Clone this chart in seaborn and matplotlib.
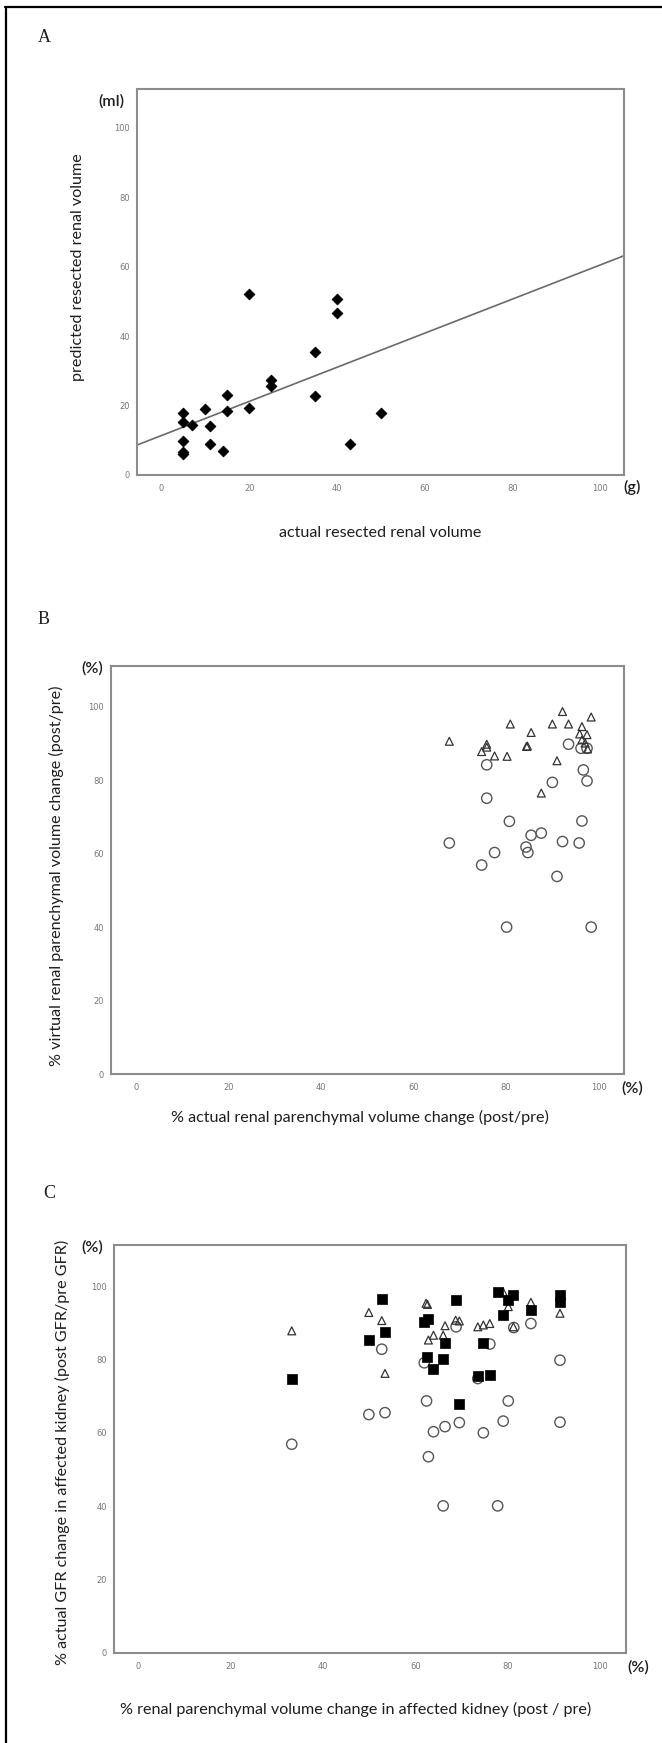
import numpy as np
import pandas as pd
import matplotlib
matplotlib.use("Agg")
import matplotlib.pyplot as plt
import seaborn as sns
from matplotlib.lines import Line2D

# panel A: actual vs predicted resected renal volume
a_actual = [5, 5, 5, 5, 5, 7, 10, 11, 11, 14, 15, 15, 20, 20, 25, 25, 35, 35, 40, 40, 43, 50]
a_predicted = [18, 15.2, 9.8, 6.5, 6, 14.3, 19, 14, 9, 7, 23, 18.3, 19.2, 52, 27.5, 25.5,
               22.8, 35.4, 50.8, 46.8, 9, 17.8]

# panel B: actual vs virtual parenchymal volume change
b_tri_x = [67.7, 75.8, 74.7, 75.8, 77.5, 80.2, 80.9, 85.4, 84.4, 84.6, 91.0, 92.2, 90.0,
           93.5, 96.4, 98.4, 95.9, 97.5, 96.4, 97.1, 97.6, 87.6]
b_tri_y = [90.6, 89.8, 87.8, 89.0, 86.6, 86.5, 95.3, 93.0, 89.2, 89.3, 85.3, 98.7, 95.3,
           95.3, 94.6, 97.2, 92.6, 92.4, 91.0, 90.1, 88.5, 76.5]
b_circ_x = [93.5, 96.2, 97.5, 75.8, 96.7, 97.5, 90.0, 75.8, 80.7, 96.4, 85.4, 87.6, 67.7,
            77.5, 84.3, 84.7, 92.2, 95.8, 74.7, 91.0, 80.1, 98.4]
b_circ_y = [89.8, 88.7, 88.7, 84.2, 82.8, 79.8, 79.4, 75.1, 68.8, 68.9, 65.0, 65.6, 62.9,
            60.3, 61.8, 60.3, 63.3, 62.9, 56.9, 53.8, 40.0, 40.0]

# panel C: volume change vs GFR change in affected kidney
c_sq_x = [33.2, 52.7, 49.9, 53.4, 68.7, 61.8, 62.8, 66.4, 62.4, 66.0, 63.9, 69.5, 74.7,
          73.5, 76.1, 77.8, 81.2, 80.1, 79.0, 85.0, 91.3, 91.3]
c_sq_y = [74.7, 96.6, 85.3, 87.6, 96.2, 90.1, 90.9, 84.4, 80.7, 80.1, 77.3, 67.8, 84.6,
          75.6, 75.7, 98.3, 97.5, 96.2, 92.1, 93.6, 97.5, 95.7]
c_tri_x = [33.2, 49.9, 52.7, 53.4, 62.3, 62.6, 62.8, 63.9, 66.0, 66.4, 68.7, 69.5, 73.5,
           74.7, 76.1, 79.0, 80.1, 81.2, 85.0, 91.3]
c_tri_y = [87.8, 92.8, 90.6, 76.2, 95.3, 95.0, 85.3, 86.6, 86.6, 89.2, 90.7, 90.5, 88.9,
           89.4, 89.8, 98.4, 94.4, 88.9, 95.6, 92.6]
c_circ_x = [33.2, 49.9, 53.4, 52.7, 61.9, 62.4, 62.8, 63.9, 66.4, 66.0, 68.8, 69.5, 74.7,
            73.5, 76.1, 77.8, 79.0, 80.1, 81.3, 85.0, 91.3, 91.3]
c_circ_y = [56.9, 65.0, 65.5, 82.8, 79.1, 68.7, 53.5, 60.3, 61.7, 40.1, 88.9, 62.8, 60.0,
            74.8, 84.2, 40.1, 63.2, 68.7, 88.7, 89.8, 79.8, 62.9]

ticks = [0, 20, 40, 60, 80, 100]

sns.set_style("white")
plt.rcParams['font.family'] = ['Lato', 'DejaVu Sans']

W, H = 662, 1743
fig = plt.figure(figsize=(W / 100, H / 100), dpi=100)


def panel(l, t, r, b):
    ax = fig.add_axes([l / W, 1 - b / H, (r - l) / W, (b - t) / H])
    for s in ax.spines.values():
        s.set_visible(True)
        s.set_color('#8c8c8c')
        s.set_linewidth(1.5)
    ax.set_xticks(ticks)
    ax.set_yticks(ticks)
    ax.tick_params(direction='out', length=3.5, width=1, color='#8c8c8c',
                   labelsize=6, labelcolor='#787878')
    ax.tick_params(axis='y', pad=1.5)
    ax.tick_params(axis='x', pad=3)
    for lab in ax.get_xticklabels() + ax.get_yticklabels():
        lab.set_family('DejaVu Sans')
    return ax


def ftext(x, y, s, **kw):
    fig.text(x / W, 1 - y / H, s, ha='center', va='center', color='#1e1e1e', **kw)


label_kw = dict(fontsize=11.6)
unit_kw = dict(fontsize=11.6, weight='semibold')
letter_kw = dict(fontsize=13, family='Liberation Serif')

# ---- A
ax = panel(137, 89, 624, 475)
ax.set_xlim(-5.6, 105.5)
ax.set_ylim(0, 111.2)
sns.regplot(x=np.array(a_actual), y=np.array(a_predicted), ax=ax, scatter=False, ci=None,
            truncate=False, line_kws=dict(color='#6a6a6a', lw=1.2))
sns.scatterplot(x=a_actual, y=a_predicted, ax=ax, marker='D', s=30, color='black',
                edgecolor='black', linewidth=0.6, zorder=3)
ax.set_xlim(-5.6, 105.5)
ax.set_ylim(0, 111.2)
ax.set_xlabel('')
ax.set_ylabel('')
ftext(44, 38, 'A', **letter_kw)
ftext(111, 101, '(ml)', **unit_kw)
ftext(632, 487, '(g)', **unit_kw)
ftext(78, 267, 'predicted resected renal volume', rotation=90, **label_kw)
ftext(380, 533, 'actual resected renal volume', **label_kw)

# ---- B
ax = panel(111, 666, 624, 1074)
sns.scatterplot(x=b_circ_x, y=b_circ_y, ax=ax, marker='o', s=55, facecolor='none',
                edgecolor='#555555', linewidth=1.0)
sns.scatterplot(x=b_tri_x, y=b_tri_y, ax=ax, marker='^', s=32, facecolor='none',
                edgecolor='#333333', linewidth=0.9)
ax.set_xlim(-5.5, 105.5)
ax.set_ylim(0, 111.1)
ftext(44, 620, 'B', **letter_kw)
ftext(92, 668, '(%)', **unit_kw)
ftext(632, 1088, '(%)', **unit_kw)
ftext(56, 876, '% virtual renal parenchymal volume change (post/pre)', rotation=90, **label_kw)
ftext(360, 1117, '% actual renal parenchymal volume change (post/pre)', **label_kw)

# ---- C
ax = panel(114, 1245, 626, 1653)
sns.scatterplot(x=c_circ_x, y=c_circ_y, ax=ax, marker='o', s=55, facecolor='none',
                edgecolor='#555555', linewidth=1.0)
sns.scatterplot(x=c_tri_x, y=c_tri_y, ax=ax, marker='^', s=32, facecolor='none',
                edgecolor='#333333', linewidth=0.9)
sns.scatterplot(x=c_sq_x, y=c_sq_y, ax=ax, marker='s', s=50, color='black',
                edgecolor='black', linewidth=0.5)
ax.set_xlim(-5.3, 105.6)
ax.set_ylim(0, 111.2)
ftext(49, 1194, 'C', **letter_kw)
ftext(92, 1247, '(%)', **unit_kw)
ftext(638, 1667, '(%)', **unit_kw)
ftext(62, 1452, '% actual GFR change in affected kidney (post GFR/pre GFR)', rotation=90,
      **label_kw)
ftext(356, 1709, '% renal parenchymal volume change in affected kidney (post / pre)',
      **label_kw)

# outer frame (top and left edges)
fig.add_artist(Line2D([5 / W, 1], [1 - 7 / H, 1 - 7 / H], color='black', lw=1.6))
fig.add_artist(Line2D([6 / W, 6 / W], [0, 1 - 7 / H], color='black', lw=1.6))

fig.savefig('out.png', dpi=100)
